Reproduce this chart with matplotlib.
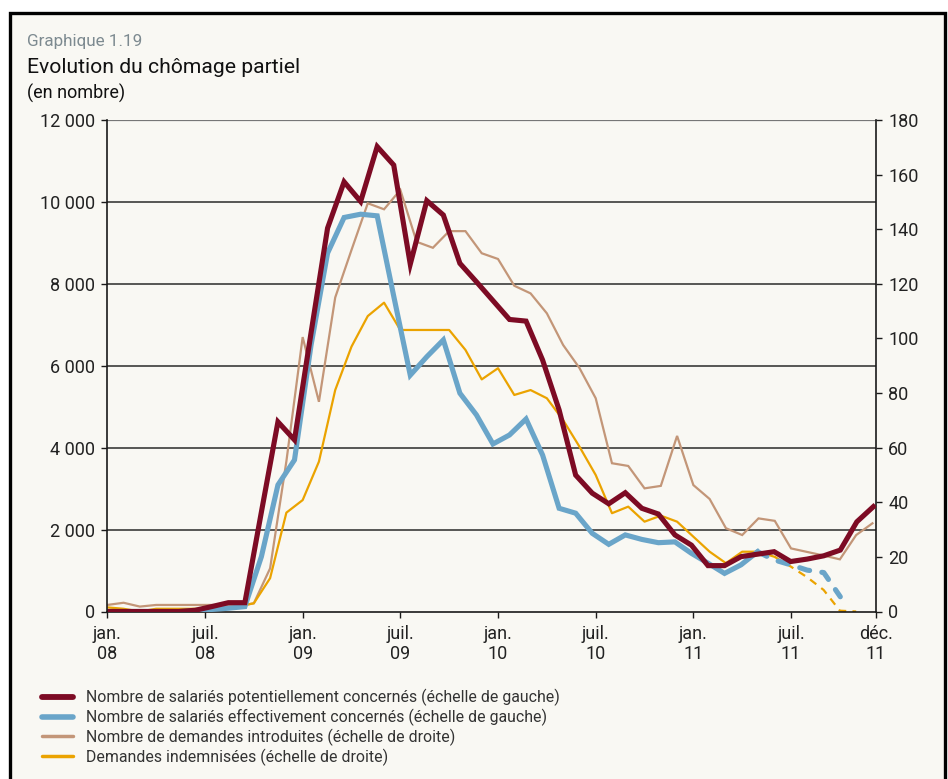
import numpy as np
import matplotlib
matplotlib.use("Agg")
import matplotlib.pyplot as plt
import matplotlib.font_manager as fm
from matplotlib.patches import Rectangle
from matplotlib.lines import Line2D

# ---------------- data ----------------
month_labels = ["jan.\n08", "juil.\n08", "jan.\n09", "juil.\n09", "jan.\n10",
                "juil.\n10", "jan.\n11", "juil.\n11", "déc.\n11"]

# left scale (number of employees), monthly jan 08 .. déc 11
potentiels = [0, 0, 0, 0, 0, 0, 30, 120, 215, 215,
              2430, 4630, 4190, 6800, 9360, 10490, 10010, 11350, 10900, 8480,
              10030, 9680, 8500, 8050, 7590, 7130, 7090, 6140, 4920, 3330,
              2890, 2630, 2900, 2520, 2380, 1870, 1620, 1120, 1120, 1340,
              1400, 1460, 1220, 1280, 1360, 1500, 2190, 2560]
effectifs = [0, 0, 0, 0, 0, 0, 10, 50, 80, 120,
             1340, 3090, 3700, 6500, 8750, 9620, 9700, 9660, 7700, 5770,
             6220, 6630, 5330, 4800, 4090, 4310, 4700, 3820, 2520, 2400,
             1910, 1640, 1870, 1760, 1680, 1700, 1420, 1180, 930, 1140,
             1460, 1260, 1140, 1010, 950, 360, np.nan, np.nan]
# right scale (number of requests)
introduites = [2.4, 3.2, 1.8, 2.4, 2.4, 2.4, 2.4, 2.4, 2.0, 3.0,
               15.8, 55, 100.5, 76.8, 115, 132.4, 149.5, 147.3, 154.4, 135.4,
               133.2, 139.3, 139.3, 131.2, 129.1, 119.3, 116.5, 109.2, 97.6, 89.2,
               78.1, 54.3, 53.3, 45.1, 46.0, 64.3, 46.3, 41.2, 30.5, 28.0,
               34.1, 33.2, 23.1, 21.8, 20.5, 19.1, 28.0, 32.3]
indemnisees = [1.5, 1, 0, 1, 1, 1, 1, 1, 1.8, 3.0,
               12.2, 36.2, 40.8, 54.9, 81.1, 97, 108.2, 113.1, 103.1, 103.1,
               103.1, 103.1, 95.8, 85.0, 89.1, 79.3, 81.1, 78.1, 70.1, 60.4,
               50.0, 36.0, 38.4, 32.9, 35.1, 32.9, 27.4, 21.9, 17.7, 21.9,
               21.9, 20.0, 16.4, 12.5, 7.9, 0.3, 0, np.nan]
eff_dash_start = 40   # first index of the dashed (provisional) part
ind_dash_start = 41

labels = ["Nombre de salariés potentiellement concernés (échelle de gauche)",
          "Nombre de salariés effectivement concernés (échelle de gauche)",
          "Nombre de demandes introduites (échelle de droite)",
          "Demandes indemnisées (échelle de droite)"]

left_ticks = [0, 2000, 4000, 6000, 8000, 10000, 12000]
right_ticks = [0, 20, 40, 60, 80, 100, 120, 140, 160, 180]

# ---------------- style ----------------
RED = "#7d0b24"
BLUE = "#6aa5c9"
BROWN = "#c39678"
ORANGE = "#eba300"
BG = "#f9f8f3"
TXT = "#222222"

avail = {f.name for f in fm.fontManager.ttflist}
FONT = "DejaVu Sans"
for cand in ["Roboto", "Open Sans", "Liberation Sans"]:
    if cand in avail:
        FONT = cand
        break
plt.rcParams["font.family"] = [FONT, "DejaVu Sans"]

W, H = 948, 779
fig = plt.figure(figsize=(W / 100, H / 100), dpi=100, facecolor="white")


def fx(px):
    return px / W


def fy(py):
    return 1 - py / H


frame = Rectangle((fx(10), fy(800)), fx(945) - fx(10), fy(13) - fy(800),
                  transform=fig.transFigure, facecolor=BG, edgecolor="black",
                  lw=2.4, zorder=-5)
fig.add_artist(frame)

rect = [fx(107.3), fy(611.5), fx(875.7) - fx(107.3), fy(120) - fy(611.5)]
axR = fig.add_axes(rect, zorder=1)
axL = fig.add_axes(rect, zorder=2)
for a in (axR, axL):
    a.set_facecolor("none")

# right-scale series (points aligned on the month ticks)
xr = np.arange(len(introduites))
axR.plot(xr, introduites, color=BROWN, lw=1.6, solid_joinstyle="miter")
ind = np.array(indemnisees, dtype=float)
axR.plot(xr[:ind_dash_start + 1], ind[:ind_dash_start + 1], color=ORANGE, lw=1.6)
axR.plot(xr[ind_dash_start:], ind[ind_dash_start:], color=ORANGE, lw=1.6,
         linestyle=(0, (3.5, 2.8)))
axR.set_xlim(0, 47.2)
axR.set_ylim(0, 180)
for v in left_ticks[1:]:
    top = v == left_ticks[-1]
    axR.axhline(v * 180 / left_ticks[-1], color="#777777" if top else "#2a2a2a",
                lw=1.6 if top else 1.1, zorder=0.5)
axR.yaxis.tick_right()
axR.set_yticks(right_ticks)
axR.set_yticklabels([str(t) for t in right_ticks])
xt = [0, 6, 12, 18, 24, 30, 36, 42, 47.2]
axR.set_xticks(xt)
axR.set_xticklabels(month_labels, linespacing=1.15)
for s in ("top", "left"):
    axR.spines[s].set_visible(False)
for s in ("right", "bottom"):
    axR.spines[s].set_color("#1a1a1a")
    axR.spines[s].set_linewidth(1.2)
axR.tick_params(axis="both", direction="out", length=4, width=1.0,
                color="#1a1a1a", labelsize=13, labelcolor=TXT)
axR.tick_params(axis="x", pad=6)
axR.tick_params(axis="y", pad=5)

# left-scale series
xl = np.arange(len(potentiels))
eff = np.array(effectifs, dtype=float)
axL.plot(xl[:eff_dash_start + 1], eff[:eff_dash_start + 1], color=BLUE, lw=3.7,
         solid_joinstyle="miter")
axL.plot(xl[eff_dash_start:], eff[eff_dash_start:], color=BLUE, lw=3.7,
         linestyle=(0, (2.0, 2.4)), dash_capstyle="round")
axL.plot(xl, potentiels, color=RED, lw=3.7, solid_joinstyle="miter")
axL.set_xlim(0.683, 47.14)
axL.set_ylim(0, 12000)
axL.set_yticks(left_ticks)
axL.set_yticklabels([f"{t:,}".replace(",", " ") for t in left_ticks])
axL.set_xticks([])
for s in ("top", "right", "bottom"):
    axL.spines[s].set_visible(False)
axL.spines["left"].set_color("#1a1a1a")
axL.spines["left"].set_linewidth(1.2)
axL.tick_params(axis="y", direction="out", length=4, width=1.0, color="#1a1a1a",
                labelsize=13, labelcolor=TXT, pad=5)

# titles
fig.text(fx(27), fy(46), "Graphique 1.19", fontsize=12.3, color="#7d8a90", va="baseline")
fig.text(fx(27), fy(73), "Evolution du chômage partiel", fontsize=15.2, color="#111111",
         va="baseline")
fig.text(fx(27), fy(99), "(en nombre)", fontsize=13, color="#111111", va="baseline")

# legend
handles = [Line2D([], [], color=RED, lw=4.2, solid_capstyle="round"),
           Line2D([], [], color=BLUE, lw=4.0, solid_capstyle="round"),
           Line2D([], [], color=BROWN, lw=2.5, solid_capstyle="round"),
           Line2D([], [], color=ORANGE, lw=2.5, solid_capstyle="round")]
leg = fig.legend(handles, labels, loc="upper left", bbox_to_anchor=(fx(42), fy(689)),
                 frameon=False, fontsize=11.4, handlelength=1.95, handletextpad=0.85,
                 labelspacing=0.16, borderpad=0, borderaxespad=0)
for t in leg.get_texts():
    t.set_color("#333333")

fig.savefig("out.png", dpi=100, facecolor="white")
